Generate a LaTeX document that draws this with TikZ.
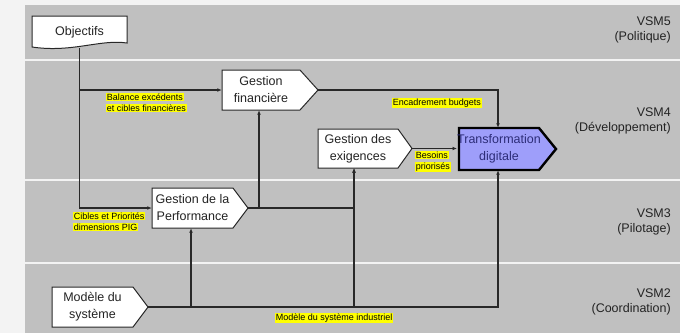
\documentclass[tikz,border=0pt]{standalone}
\usepackage{fontspec}
\setmainfont{Liberation Sans}
\usetikzlibrary{arrows.meta,calc}
\definecolor{bandgray}{RGB}{192,192,192}
\definecolor{bgc}{RGB}{243,243,243}
\definecolor{sepc}{RGB}{236,236,236}
\definecolor{hly}{RGB}{255,255,0}
\definecolor{tdfill}{RGB}{158,158,250}
\definecolor{tdtext}{RGB}{45,45,120}
\definecolor{linec}{RGB}{40,40,40}
\definecolor{textc}{RGB}{35,35,35}
\newcommand\hlx[1]{{\setlength{\fboxsep}{0.7pt}\colorbox{hly}{#1}}}
\newcommand\pentbox[8]{%
  \draw[#7] (#2,#3) -- (#4,#3) -- (#6,{(#3+#5)/2}) -- (#4,#5) -- (#2,#5) -- cycle;
  \node[boxtext, minimum width={#4-#2}, minimum height={#5-#3}] (#1) at ({(#2+#4)/2},{(#3+#5)/2}) {#8};
  \coordinate (#1-tip) at (#6,{(#3+#5)/2});
}
\begin{document}
\begin{tikzpicture}[x=1pt,y=-1pt,
  boxst/.style={draw=linec, fill=white, line width=1pt, line join=miter},
  tdst/.style={draw=black, fill=tdfill, line width=2.4pt, line join=miter},
  boxtext/.style={inner sep=0pt, align=center, text=textc, font=\fontsize{12.5}{17}\selectfont},
  conn/.style={draw=linec, line width=1.1pt, -{Latex[length=4.5pt,width=3.8pt]}},
  lbl/.style={inner sep=0pt, align=left, font=\fontsize{9}{11}\selectfont, text=black},
  vsm/.style={inner sep=0pt, align=right, text=textc, font=\fontsize{12.5}{15}\selectfont}]
\useasboundingbox (0,0) rectangle (680,333);
\fill[bgc] (0,0) rectangle (680,333);
% bands
\fill[bandgray] (25,5) rectangle (680,59);
\fill[bandgray] (25,61) rectangle (680,179);
\fill[bandgray] (25,181) rectangle (680,262);
\fill[bandgray] (25,264) rectangle (680,333);
% level labels
\node[vsm, anchor=east] (v5) at (671,30) {VSM5\\(Politique)};
\node[vsm, anchor=east] (v4) at (671,121) {VSM4\\(Développement)};
\node[vsm, anchor=east] (v3) at (671,222) {VSM3\\(Pilotage)};
\node[vsm, anchor=east] (v2) at (671,302) {VSM2\\(Coordination)};
% Objectifs (document shape)
\draw[boxst] (32,16) -- (127,16) -- (127,43) .. controls (100,39) and (72,53) .. (32,47) -- cycle;
\node[boxtext, minimum width=95, minimum height=32] (obj) at (79.5,32) {Objectifs};
% boxes
\pentbox{gf}{222}{70}{300}{110}{318}{boxst}{Gestion\\financière}
\pentbox{ge}{318}{129}{398}{168}{412}{boxst}{Gestion des\\exigences}
\pentbox{td}{459}{128}{539}{170}{556}{tdst}{\textcolor{tdtext}{Transformation}\\\textcolor{tdtext}{digitale}}
\pentbox{gp}{152}{188}{233}{228}{248}{boxst}{Gestion de la\\Performance}
\pentbox{ms}{52}{287}{133}{327}{148}{boxst}{Modèle du\\système}
\coordinate (gfin) at ([xshift=-2pt]gf.south);
\coordinate (gein) at ([xshift=-4pt]ge.south);
\coordinate (tdin) at ([xshift=-1pt]td.north);
\coordinate (tdin2) at ([xshift=-1pt]td.south);
\coordinate (gpin) at ([xshift=-1.5pt]gp.south);
% connectors
\draw[conn] (obj.south) |- (gf.west);
\draw[conn] (obj.south) |- (gp.west);
\draw[conn] (gf-tip) -| (tdin);
\draw[conn] (ge-tip) -- (ge-tip -| td.west);
\draw[conn] (gp-tip) -| (gein);
\draw[conn] (gp-tip -| gfin) -- (gfin);
\draw[conn] (ms-tip) -| (tdin2);
\draw[conn] (ms-tip -| gpin) -- (gpin);
\draw[conn] (ms-tip -| gein) -- (gein);
% labels
\node[lbl, anchor=north west] (l1) at (106,93) {\hlx{Balance excédents}\\\hlx{et cibles financières}};
\node[lbl, anchor=west] (l2) at (392,103) {\hlx{Encadrement budgets}};
\node[lbl, anchor=north west] (l3) at (415,151) {\hlx{Besoins}\\\hlx{priorisés}};
\node[lbl, anchor=north west] (l4) at (73,212) {\hlx{Cibles et Priorités}\\\hlx{dimensions PIG}};
\node[lbl, anchor=west] (l5) at (275,318) {\hlx{Modèle du système industriel}};
\end{tikzpicture}
\end{document}
